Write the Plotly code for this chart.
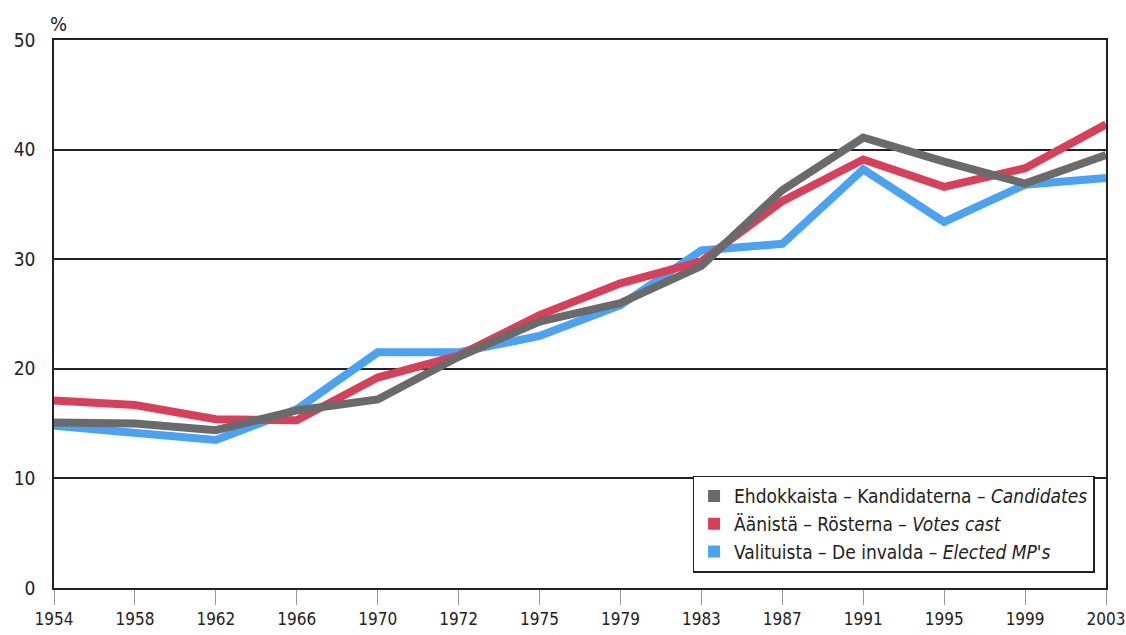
import plotly.graph_objects as go

years = ['1954', '1958', '1962', '1966', '1970', '1972', '1975', '1979',
         '1983', '1987', '1991', '1995', '1999', '2003']

candidates = [15.1, 15.0, 14.4, 16.2, 17.2, 21.1, 24.3, 26.0, 29.4, 36.3, 41.1, 38.9, 36.9, 39.5]
votes_cast = [17.1, 16.7, 15.4, 15.3, 19.2, 21.2, 24.9, 27.8, 29.8, 35.3, 39.1, 36.6, 38.3, 42.3]
elected = [14.8, 14.1, 13.5, 16.3, 21.5, 21.5, 23.0, 25.8, 30.8, 31.4, 38.2, 33.4, 36.8, 37.4]

names = ['Ehdokkaista – Kandidaterna – <i>Candidates</i>',
         'Äänistä – Rösterna – <i>Votes cast</i>',
         'Valituista – De invalda – <i>Elected MP\'s</i>']

grey = '#6a6a6a'
red = '#d8405a'
blue = '#4aa3f2'

font = 'DejaVu Sans Condensed, Liberation Sans Narrow, Arial Narrow, sans-serif'

fig = go.Figure()

# draw order: blue, red, grey on top
for vals, col in [(elected, blue), (votes_cast, red), (candidates, grey)]:
    fig.add_trace(go.Scatter(x=years, y=vals, mode='lines',
                             line=dict(color=col, width=8),
                             showlegend=False, hoverinfo='skip'))

# legend entries with square markers
for name, col in zip(names, [grey, red, blue]):
    fig.add_trace(go.Scatter(x=[None], y=[None], mode='markers', name=name,
                             marker=dict(symbol='square', size=13, color=col)))

fig.update_layout(
    width=1126, height=635,
    margin=dict(l=54, r=20, t=40, b=47),
    plot_bgcolor='white', paper_bgcolor='white',
    font=dict(family=font, size=19, color='#222'),
    legend=dict(x=0.607, y=0.205, xanchor='left', yanchor='top',
                bordercolor='#222', borderwidth=1.5, bgcolor='white',
                font=dict(size=19), tracegroupgap=0, itemsizing='constant'),
    xaxis=dict(type='category', range=[0, 13], showgrid=False, automargin=False,
               showline=True, linecolor='#222', linewidth=1.5, mirror=True,
               ticks='outside', ticklen=15, tickcolor='#999', tickwidth=1,
               tickfont=dict(size=17)),
    yaxis=dict(range=[0, 50], tickvals=[0, 10, 20, 30, 40, 50], automargin=False,
               showgrid=True, gridcolor='#222', gridwidth=1.5,
               showline=True, linecolor='#222', linewidth=1.5, mirror=True,
               zeroline=False, ticks='', ticklabelstandoff=13,
               tickfont=dict(size=19)),
    annotations=[dict(text='%', xref='paper', yref='paper', x=0.0, y=1.0,
                      xanchor='left', yanchor='bottom', yshift=2, xshift=-6,
                      showarrow=False, font=dict(size=20))],
)

# drop the page's default body margin so the figure fills the window exactly
fig.write_html('out.html', config={'displayModeBar': False},
               post_script="document.body.style.margin='0';document.body.style.overflow='hidden';")
